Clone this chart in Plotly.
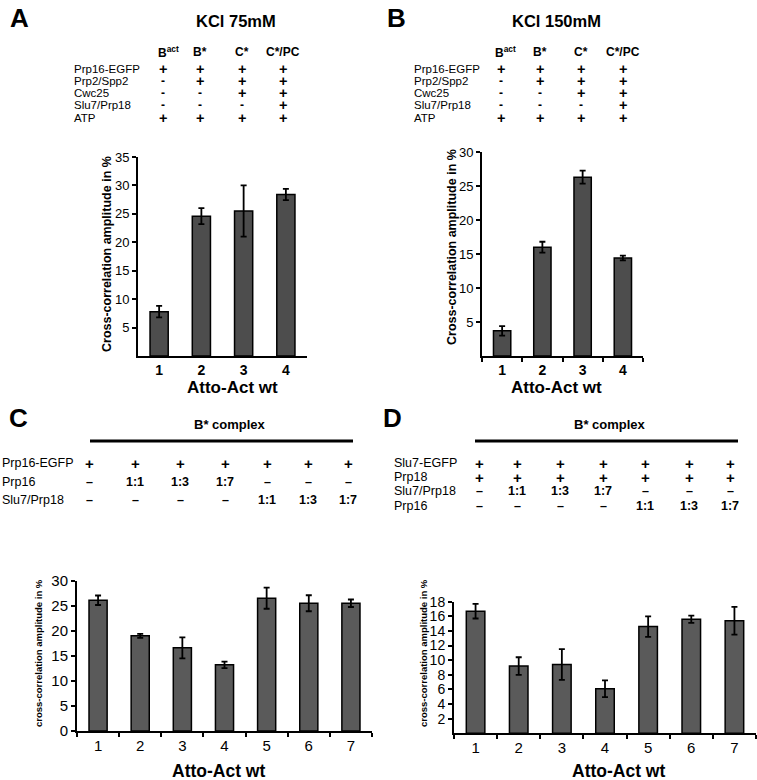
import plotly.graph_objects as go

W, H = 757, 780
FONT = "Liberation Sans, Arial, sans-serif"

# ---------------- data ----------------
a_cats = ["1", "2", "3", "4"]
a_vals = [7.8, 24.6, 25.5, 28.4]
a_errs = [1.0, 1.4, 4.5, 1.0]

b_cats = ["1", "2", "3", "4"]
b_vals = [3.7, 16.0, 26.3, 14.4]
b_errs = [0.7, 0.8, 0.95, 0.35]

c_cats = ["1", "2", "3", "4", "5", "6", "7"]
c_vals = [26.1, 19.0, 16.6, 13.2, 26.5, 25.5, 25.5]
c_errs = [0.95, 0.4, 2.1, 0.65, 2.1, 1.6, 0.75]

d_cats = ["1", "2", "3", "4", "5", "6", "7"]
d_vals = [16.7, 9.2, 9.4, 6.1, 14.6, 15.6, 15.4]
d_errs = [1.0, 1.2, 2.1, 1.15, 1.4, 0.5, 1.9]

ab_headers = ["B<sup>act</sup>", "B*", "C*", "C*/PC"]
ab_rows = ["Prp16-EGFP", "Prp2/Spp2", "Cwc25", "Slu7/Prp18", "ATP"]
ab_table = [["+", "+", "+", "+"],
            ["-", "+", "+", "+"],
            ["-", "-", "+", "+"],
            ["-", "-", "-", "+"],
            ["+", "+", "+", "+"]]

c_rows = ["Prp16-EGFP", "Prp16", "Slu7/Prp18"]
c_table = [["+"] * 7,
           ["–", "1:1", "1:3", "1:7", "–", "–", "–"],
           ["–", "–", "–", "–", "1:1", "1:3", "1:7"]]

d_rows = ["Slu7-EGFP", "Prp18", "Slu7/Prp18", "Prp16"]
d_table = [["+"] * 7,
           ["+"] * 7,
           ["–", "1:1", "1:3", "1:7", "–", "–", "–"],
           ["–", "–", "–", "–", "1:1", "1:3", "1:7"]]


def px(x, y):
    return x / W, 1 - y / H


fig = go.Figure()

def add_bars(cats, vals, errs, xa, ya, color):
    fig.add_trace(go.Bar(
        x=cats, y=vals, xaxis=xa, yaxis=ya,
        marker=dict(color=color, line=dict(color="black", width=1.5)),
        error_y=dict(type="data", array=errs, visible=True,
                     color="black", thickness=1.8, width=3),
        showlegend=False, hoverinfo="x+y"))

add_bars(a_cats, a_vals, a_errs, "x", "y", "#4d4d4d")
add_bars(b_cats, b_vals, b_errs, "x2", "y2", "#4d4d4d")
add_bars(c_cats, c_vals, c_errs, "x3", "y3", "#5a5a5a")
add_bars(d_cats, d_vals, d_errs, "x4", "y4", "#5a5a5a")

def xax(x0, x1, ticks, fsize, anchor):
    return dict(domain=[x0 / W, x1 / W], type="category", anchor=anchor,
                showline=True, linecolor="black", linewidth=2,
                ticks=ticks, ticklen=4, tickwidth=1.5, tickcolor="black",
                tickson="boundaries", showgrid=False, zeroline=False,
                automargin=False,
                tickfont=dict(family=FONT, size=fsize, color="black"),
                fixedrange=True)

def yax(ytop, ybot, rng, tickvals, fsize, anchor):
    return dict(domain=[1 - ybot / H, 1 - ytop / H], range=rng,
                showline=True, linecolor="black", linewidth=2,
                ticks="outside", ticklen=4, tickwidth=1.5, tickcolor="black",
                tickvals=tickvals, showgrid=False, zeroline=False,
                automargin=False,
                tickfont=dict(family=FONT, size=fsize, color="black"),
                anchor=anchor, fixedrange=True)

xa = xax(138, 307, "", 14, "y")
xb = xax(482, 643, "outside", 14, "y2")
xc = xax(77, 372, "outside", 15, "y3")
xd = xax(454, 756, "outside", 15, "y4")
ya = yax(157, 356, [0, 35], [5, 10, 15, 20, 25, 30, 35], 13, "x")
yb = yax(152, 356, [0, 30], [5, 10, 15, 20, 25, 30], 13, "x2")
yc = yax(580.7, 731, [0, 30], [0, 5, 10, 15, 20, 25, 30], 15, "x3")
yd = yax(601.7, 733.3, [0, 18], [2, 4, 6, 8, 10, 12, 14, 16, 18], 14, "x4")
for ax in (xa, xb, ya, yb):
    ax["tickprefix"] = "<b>"
    ax["ticksuffix"] = "</b>"

fig.update_layout(
    width=W, height=H, margin=dict(l=0, r=0, t=0, b=0, autoexpand=False),
    paper_bgcolor="white", plot_bgcolor="white",
    bargap=0.57, showlegend=False,
    font=dict(family=FONT, color="black"),
    xaxis=xa, yaxis=ya, xaxis2=xb, yaxis2=yb,
    xaxis3=xc, yaxis3=yc, xaxis4=xd, yaxis4=yd,
)

ann = []
def text(x, y, s, size, bold=False, xanchor="center", angle=0):
    X, Y = px(x, y)
    if bold:
        s = "<b>" + s + "</b>"
    ann.append(dict(x=X, y=Y, xref="paper", yref="paper", text=s,
                    showarrow=False, xanchor=xanchor, yanchor="middle",
                    textangle=angle, borderpad=0,
                    font=dict(family=FONT, size=size, color="black")))

# panel letters and titles
text(19, 18, "A", 26, True)
text(396, 18, "B", 26, True)
text(18, 418, "C", 26, True)
text(393, 418, "D", 26, True)
text(236, 21, "KCl 75mM", 16.5, True)
text(556, 21, "KCl 150mM", 16.5, True)

# tables A & B
def ab_block(lab_x, col_x, hdr_y, row_ys):
    for h, cx in zip(ab_headers, col_x):
        text(cx, hdr_y, h, 12, True)
    for r, ry in enumerate(row_ys):
        text(lab_x, ry, ab_rows[r], 11.5, False, xanchor="left")
        for i, (v, cx) in enumerate(zip(ab_table[r], col_x)):
            text(cx - 5 if i == 0 else cx, ry, v, 14.5 if v == "+" else 12, True)

row_ys_ab = [69, 81, 93, 105, 118]
ab_block(73, [168, 200, 242, 283], 52, row_ys_ab)
ab_block(413, [506, 540, 581, 623], 52, row_ys_ab)

# tables C & D
def cd_block(lab_x, col_x, rows, table, row_ys, title_x, line_x0, line_x1):
    text(title_x, 425, "B* complex", 13, True)
    for r, ry in enumerate(row_ys):
        text(lab_x, ry, rows[r], 12.5, False, xanchor="left")
        for v, cx in zip(table[r], col_x):
            text(cx, ry, v, 15 if v == "+" else 12.5, True)
    x0, y0 = px(line_x0, 441)
    x1, _ = px(line_x1, 441)
    fig.add_shape(type="line", xref="paper", yref="paper", x0=x0, x1=x1,
                  y0=y0, y1=y0, line=dict(color="black", width=3))

cd_block(1, [89, 135, 180, 225, 267, 308, 348], c_rows, c_table,
         [463, 482, 500], 230, 90, 353)
cd_block(393, [479, 517, 560, 603, 645, 689, 730], d_rows, d_table,
         [463, 477, 491, 506], 610, 475, 738)

# axis titles
text(232, 387, "Atto-Act wt", 17, True)
text(556, 387, "Atto-Act wt", 17, True)
text(218, 771, "Atto-Act wt", 17.5, True)
text(618, 771, "Atto-Act wt", 17.5, True)
text(107, 254, "Cross-correlation amplitude in %", 12.5, True, angle=-90)
text(452, 247, "Cross-correlation amplitude in %", 12.5, True, angle=-90)
text(38, 653, "cross-correlation amplitude in %", 9.5, True, angle=-90)
text(423, 653, "cross-correlation amplitude in %", 9.5, True, angle=-90)

fig.update_layout(annotations=ann)
fig.write_html("out.html", config={"displayModeBar": False},
               post_script="document.body.style.margin='0px';"
                           "document.body.style.overflow='hidden';")
